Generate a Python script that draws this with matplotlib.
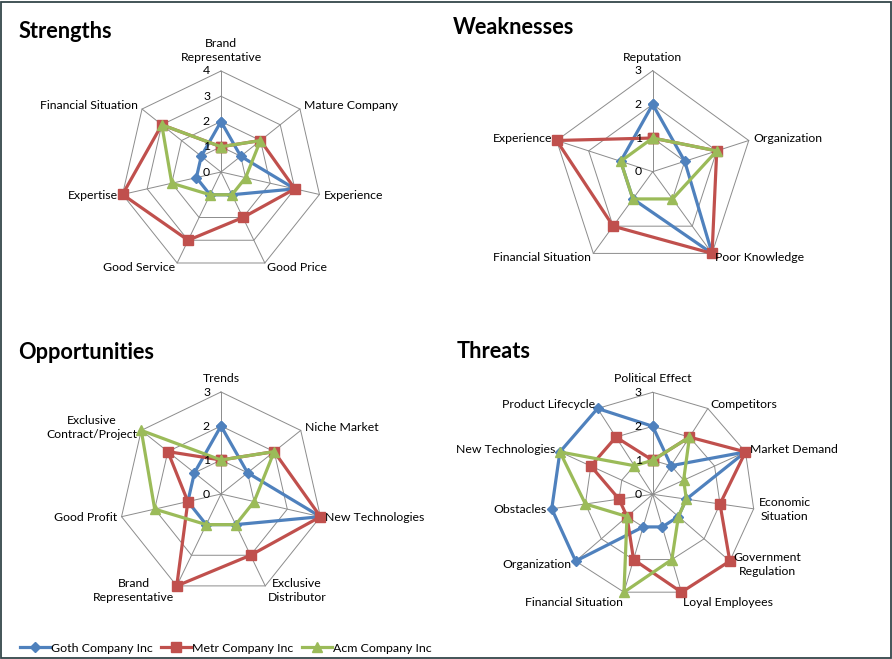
import numpy as np
import matplotlib
matplotlib.use("Agg")
from matplotlib import pyplot as plt
from matplotlib.lines import Line2D
from matplotlib.patches import Rectangle

plt.rcParams['font.family'] = ['Lato', 'DejaVu Sans']

# Strengths
strengths_cats = ["Brand\nRepresentative", "Mature Company", "Experience", "Good Price",
                  "Good Service", "Expertise", "Financial Situation"]
strengths_goth = [2, 1, 3, 1, 1, 1, 1]
strengths_metr = [1, 2, 3, 2, 3, 4, 3]
strengths_acm = [1, 2, 1, 1, 1, 2, 3]

# Weaknesses
weak_cats = ["Reputation", "Organization", "Poor Knowledge", "Financial Situation", "Experience"]
weak_goth = [2, 1, 3, 1, 1]
weak_metr = [1, 2, 3, 2, 3]
weak_acm = [1, 2, 1, 1, 1]

# Opportunities
opp_cats = ["Trends", "Niche Market", "New Technologies", "Exclusive\nDistributor",
            "Brand\nRepresentative", "Good Profit", "Exclusive\nContract/Project"]
opp_goth = [2, 1, 3, 1, 1, 1, 1]
opp_metr = [1, 2, 3, 2, 3, 1, 2]
opp_acm = [1, 2, 1, 1, 1, 2, 3]

# Threats
threat_cats = ["Political Effect", "Competitors", "Market Demand", "Economic\nSituation",
               "Government\nRegulation", "Loyal Employees", "Financial Situation",
               "Organization", "Obstacles", "New Technologies", "Product Lifecycle"]
threat_goth = [2, 1, 3, 1, 1, 1, 1, 3, 3, 3, 3]
threat_metr = [1, 2, 3, 2, 3, 3, 2, 1, 1, 2, 2]
threat_acm = [1, 2, 1, 1, 1, 2, 3, 1, 2, 3, 1]

companies = ["Goth Company Inc", "Metr Company Inc", "Acm Company Inc"]

blue = '#4F81BD'
red = '#C0504D'
green = '#9BBB59'
grid_col = '#8C8C8C'
styles = [(blue, 'D', 5), (red, 's', 6.5), (green, '^', 7)]

W, H = 892, 659
fig = plt.figure(figsize=(W / 100, H / 100), dpi=100)


def radar(cx, cy, R, rmax, title, tx, ty, cats, series):
    ax = fig.add_axes([(cx - R) / W, 1 - (cy + R) / H, 2 * R / W, 2 * R / H], projection='polar')
    ax.set_theta_zero_location('N')
    ax.set_theta_direction(-1)
    ax.set_ylim(0, rmax)
    ax.axis('off')
    n = len(cats)
    th = np.arange(n) * 2 * np.pi / n
    thc = np.append(th, th[0])
    for k in range(1, rmax + 1):
        ax.plot(thc, [k] * (n + 1), color=grid_col, lw=0.7, clip_on=False, zorder=1)
    for t in th:
        ax.plot([t, t], [0, rmax], color=grid_col, lw=0.7, clip_on=False, zorder=1)
    for vals, (c, m, ms) in zip(series, styles):
        v = np.append(vals, vals[0])
        ax.plot(thc, v, color=c, lw=2.3, marker=m, ms=ms, mec=c, clip_on=False, zorder=3)
    for k in range(rmax + 1):
        ax.annotate(str(k), (0, k), xytext=(-11, 0), textcoords='offset pixels',
                    ha='right', va='center', fontsize=8.8, zorder=4)
    for t, lab in zip(th, cats):
        s, c = np.sin(t), np.cos(t)
        ha = 'left' if s > 0.15 else ('right' if s < -0.15 else 'center')
        va = 'bottom' if c > 0.95 else ('top' if c < -0.95 else 'center')
        off = 8 if c > 0.95 else 5
        ax.annotate(lab, (t, rmax), xytext=(off * s, off * c), textcoords='offset pixels',
                    ha=ha, va=va, ma='center', fontsize=8.8, linespacing=1.3)
    fig.text(tx / W, 1 - ty / H, title, fontsize=15.7, fontweight='bold', ha='left', va='baseline')


radar(221, 172, 101, 4, "Strengths", 19, 38, strengths_cats,
      [strengths_goth, strengths_metr, strengths_acm])
radar(652.7, 171.7, 101, 3, "Weaknesses", 453, 34, weak_cats,
      [weak_goth, weak_metr, weak_acm])
radar(221, 494, 102, 3, "Opportunities", 18, 359, opp_cats,
      [opp_goth, opp_metr, opp_acm])
radar(652.7, 494.3, 102, 3, "Threats", 457, 358, threat_cats,
      [threat_goth, threat_metr, threat_acm])

handles = [Line2D([], [], color=c, lw=2.3, marker=m, ms=ms, mec=c) for c, m, ms in styles]
fig.legend(handles, companies, loc='center left', bbox_to_anchor=(15 / W, 1 - 648 / H),
           ncol=3, frameon=False, fontsize=8.9, handlelength=2.4, handletextpad=0.1,
           columnspacing=0.7, borderaxespad=0)

fig.patches.append(Rectangle((1 / W, 1.5 / H), 889.5 / W, 656 / H, transform=fig.transFigure,
                             fill=False, edgecolor='#34474A', lw=1.3))

fig.savefig("out.png", dpi=100)
